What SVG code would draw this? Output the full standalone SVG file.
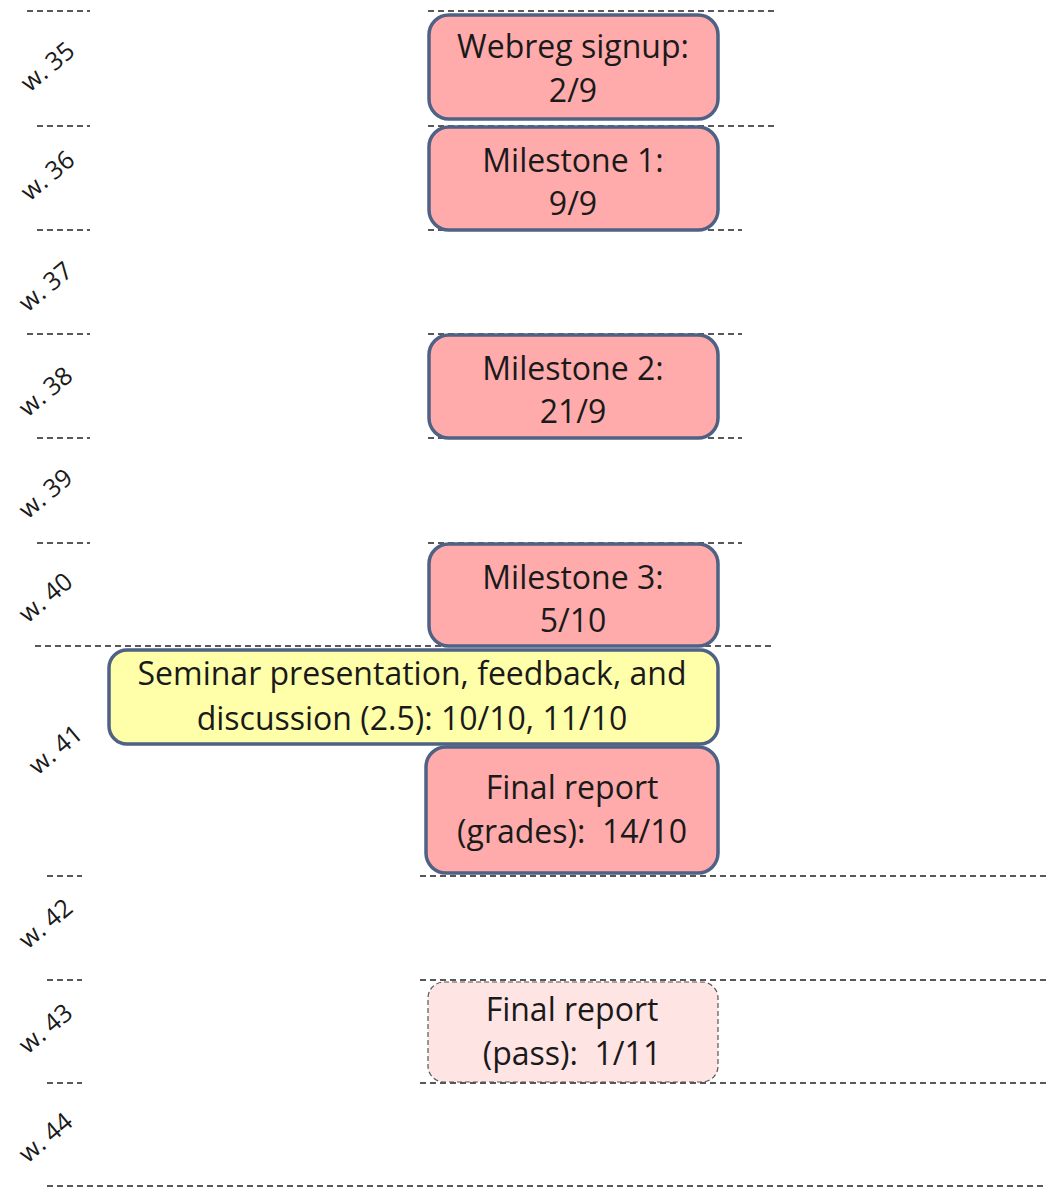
<svg xmlns="http://www.w3.org/2000/svg" width="1052" height="1188" viewBox="0 0 1052 1188">
<style>
.dash{stroke:#222;stroke-width:1.5;stroke-dasharray:6 4;fill:none}
.box{fill:#FFABAB;stroke:#4F6184;stroke-width:3.5}
.ybox{fill:#FFFFAA;stroke:#4F6184;stroke-width:3.5}
.pbox{fill:#FFE4E4;stroke:#555;stroke-width:1.2;stroke-dasharray:5 3}
.t{font-family:"Open Sans","Noto Sans",sans-serif;font-size:32px;fill:#1a1a1a;text-anchor:middle}
.w{font-family:"Open Sans","Noto Sans",sans-serif;font-size:25px;fill:#1a1a1a;text-anchor:middle}
</style>
<rect width="1052" height="1188" fill="#fff"/>
<g id="gridlines">
<line class="dash" x1="27" y1="11" x2="90" y2="11"/>
<line class="dash" x1="428" y1="11" x2="775" y2="11"/>
<line class="dash" x1="37" y1="126" x2="90" y2="126"/>
<line class="dash" x1="428" y1="126" x2="775" y2="126"/>
<line class="dash" x1="37" y1="230" x2="90" y2="230"/>
<line class="dash" x1="428" y1="230" x2="742" y2="230"/>
<line class="dash" x1="27" y1="334" x2="90" y2="334"/>
<line class="dash" x1="428" y1="334" x2="742" y2="334"/>
<line class="dash" x1="37" y1="438" x2="90" y2="438"/>
<line class="dash" x1="428" y1="438" x2="742" y2="438"/>
<line class="dash" x1="37" y1="543" x2="90" y2="543"/>
<line class="dash" x1="428" y1="543" x2="742" y2="543"/>
<line class="dash" x1="35" y1="646" x2="775" y2="646"/>
<line class="dash" x1="47" y1="876" x2="82" y2="876"/>
<line class="dash" x1="420" y1="876" x2="1047" y2="876"/>
<line class="dash" x1="47" y1="980" x2="82" y2="980"/>
<line class="dash" x1="420" y1="980" x2="1047" y2="980"/>
<line class="dash" x1="47" y1="1083" x2="82" y2="1083"/>
<line class="dash" x1="420" y1="1083" x2="1047" y2="1083"/>
<line class="dash" x1="47" y1="1186" x2="1047" y2="1186"/>
</g>
<g id="weeks">
<text class="w" transform="translate(48,67) rotate(-40)" dy="8">w. 35</text>
<text class="w" transform="translate(48,176) rotate(-40)" dy="8">w. 36</text>
<text class="w" transform="translate(46,287) rotate(-40)" dy="8">w. 37</text>
<text class="w" transform="translate(46,392) rotate(-40)" dy="8">w. 38</text>
<text class="w" transform="translate(46,494) rotate(-40)" dy="8">w. 39</text>
<text class="w" transform="translate(46,598) rotate(-40)" dy="8">w. 40</text>
<text class="w" transform="translate(56,750) rotate(-40)" dy="8">w. 41</text>
<text class="w" transform="translate(46,924) rotate(-40)" dy="8">w. 42</text>
<text class="w" transform="translate(46,1029) rotate(-40)" dy="8">w. 43</text>
<text class="w" transform="translate(46,1138) rotate(-40)" dy="8">w. 44</text>
</g>
<g id="webreg">
<rect class="box" x="429" y="15" width="289" height="104" rx="20"/>
<text class="t" x="573" y="58">Webreg signup:</text>
<text class="t" x="573" y="102">2/9</text>
</g>
<g id="milestone1">
<rect class="box" x="429" y="127" width="289" height="103" rx="20"/>
<text class="t" x="573" y="172">Milestone 1:</text>
<text class="t" x="573" y="215">9/9</text>
</g>
<g id="milestone2">
<rect class="box" x="429" y="335" width="289" height="103" rx="20"/>
<text class="t" x="573" y="380">Milestone 2:</text>
<text class="t" x="573" y="423">21/9</text>
</g>
<g id="milestone3">
<rect class="box" x="429" y="544" width="289" height="102" rx="20"/>
<text class="t" x="573" y="589">Milestone 3:</text>
<text class="t" x="573" y="632">5/10</text>
</g>
<g id="finalgrades">
<rect class="box" x="426" y="747" width="292" height="126" rx="20"/>
<text class="t" x="572" y="799">Final report</text>
<text class="t" x="572" y="843" xml:space="preserve">(grades):  14/10</text>
</g>
<g id="seminar">
<rect class="ybox" x="109" y="650" width="609" height="94" rx="18"/>
<text class="t" x="412" y="685">Seminar presentation, feedback, and</text>
<text class="t" x="412" y="730">discussion (2.5): 10/10, 11/10</text>
</g>
<g id="finalpass">
<rect class="pbox" x="428" y="982" width="290" height="100" rx="16"/>
<text class="t" x="572" y="1021">Final report</text>
<text class="t" x="572" y="1065" xml:space="preserve">(pass):  1/11</text>
</g>
<g id="connectors"></g>
</svg>
